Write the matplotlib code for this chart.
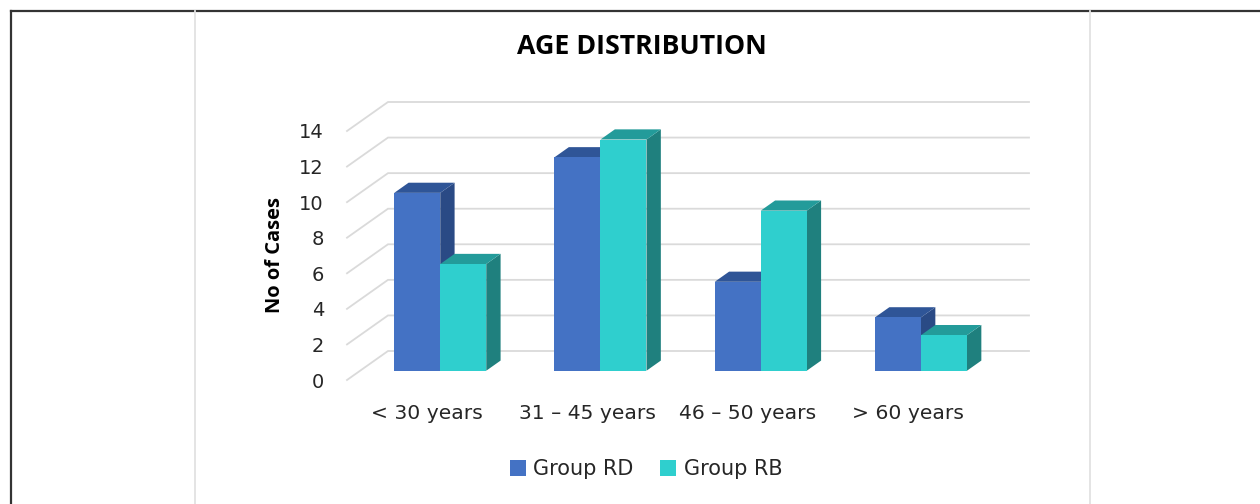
import matplotlib
matplotlib.use("Agg")
import matplotlib.pyplot as plt
from matplotlib.lines import Line2D
from matplotlib.patches import Patch, Polygon

categories = ["< 30 years", "31 – 45 years", "46 – 50 years", "> 60 years"]
group_rd = [10, 12, 5, 3]
group_rb = [6, 13, 9, 2]
y_ticks = [0, 2, 4, 6, 8, 10, 12, 14]

W, H = 1260, 504
plt.rcParams["font.family"] = ["DejaVu Sans"]
fig = plt.figure(figsize=(W / 100, H / 100), dpi=100, facecolor="white")

# Front plane of the 3D box, in pixels
left, right, bottom, top = 347, 988, 380, 131
ax = fig.add_axes([left / W, 1 - bottom / H, (right - left) / W, (bottom - top) / H])
ax.set_xlim(-0.5, 3.5)
ax.set_ylim(0, 14)
ax.patch.set_visible(False)
for spine in ax.spines.values():
    spine.set_visible(False)

# Oblique projection: full depth of the floor expressed in data units
DEPTH_X = 41 / ((right - left) / 4)
DEPTH_Y = 29 / ((bottom - top) / 14)


def project(x, y, depth):
    return x + depth * DEPTH_X, y + depth * DEPTH_Y


# Walls and gridlines
GRID = "#DADADA"
for v in y_ticks:
    x0, y0 = project(-0.5, v, 0)
    x1, y1 = project(-0.5, v, 1)
    x2, y2 = project(3.5, v, 1)
    ax.plot([x0, x1, x2], [y0, y1, y2], color=GRID, lw=1.3, clip_on=False,
            solid_joinstyle="miter", zorder=1)

BAR_W = 46 / ((right - left) / 4)
D_FRONT, D_BACK = 0.32, 0.67
COLORS = {
    "rd": ("#4472C4", "#2F5597", "#2A4A85"),
    "rb": ("#2FCFCE", "#239B9A", "#1F807E"),
}


def draw_bar(x0, value, palette, z):
    face, roof, side = palette
    x1 = x0 + BAR_W
    faces = [
        ([(x1, 0, D_FRONT), (x1, 0, D_BACK), (x1, value, D_BACK), (x1, value, D_FRONT)], side),
        ([(x0, value, D_FRONT), (x1, value, D_FRONT), (x1, value, D_BACK), (x0, value, D_BACK)], roof),
        ([(x0, 0, D_FRONT), (x1, 0, D_FRONT), (x1, value, D_FRONT), (x0, value, D_FRONT)], face),
    ]
    for corners, colour in faces:
        pts = [project(*c) for c in corners]
        ax.add_patch(Polygon(pts, closed=True, facecolor=colour, edgecolor="none",
                             clip_on=False, zorder=z))


for i, (rd, rb) in enumerate(zip(group_rd, group_rb)):
    draw_bar(i - BAR_W, rd, COLORS["rd"], 3)
    draw_bar(i, rb, COLORS["rb"], 4)

ax.set_xticks(range(len(categories)), categories)
ax.set_yticks(y_ticks)
ax.tick_params(axis="both", length=0, labelcolor="#262626")
ax.tick_params(axis="x", pad=17, labelsize=14.6)
ax.tick_params(axis="y", pad=16.6, labelsize=14)
ax.set_ylabel("No of Cases", fontsize=14.5, fontweight="bold", color="black",
              family="Open Sans")
ax.yaxis.set_label_coords((285 - left) / (right - left), (bottom - 255) / (bottom - top))

fig.text(642 / W, 1 - 47 / H, "AGE DISTRIBUTION", fontsize=19.3, fontweight="bold",
         family="Open Sans", color="black", ha="center", va="center")

handles = [Patch(facecolor=COLORS["rd"][0], label="Group RD"),
           Patch(facecolor=COLORS["rb"][0], label="Group RB")]
fig.legend(handles=handles, loc="center", bbox_to_anchor=(646 / W, 1 - 469 / H), ncol=2,
           frameon=False, fontsize=15, labelcolor="#262626", handlelength=0.77,
           handleheight=0.77, handletextpad=0.34, columnspacing=1.3, borderpad=0)

# Outer frame and the chart-area borders
for xs, ys, colour, lw in [
    ([11, 11], [11, H], "#333333", 1.6),
    ([11, W], [11, 11], "#333333", 1.6),
    ([195, 195], [11, H], "#E2E2E2", 1.3),
    ([1090, 1090], [11, H], "#E2E2E2", 1.3),
]:
    fig.add_artist(Line2D([x / W for x in xs], [1 - y / H for y in ys], color=colour, lw=lw))

fig.savefig("out.png", dpi=100)
